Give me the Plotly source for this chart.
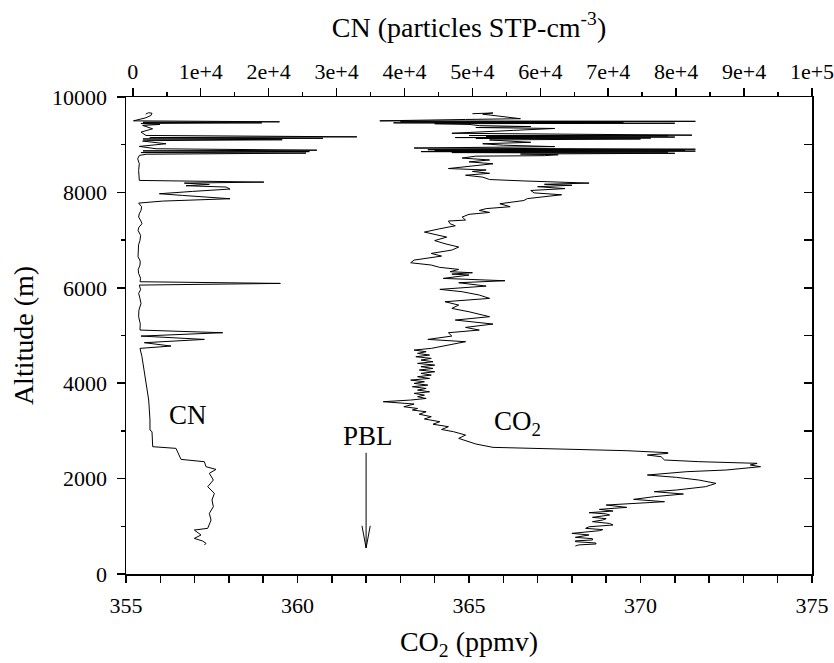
import plotly.graph_objects as go

# CN profile (top axis), top of flight to bottom
cn_alt = [9640, 9670, 9660, 9614, 9565, 9500, 9480, 9470, 9458, 9445,
          9425, 9404, 9334, 9264, 9194, 9165, 9150, 9135, 9120, 9104,
          9085, 9076, 9020, 8964, 8915, 8885, 8870, 8855, 8835, 8824,
          8800, 8775, 8705, 8601, 8461, 8251, 8216, 8195, 8167, 8140,
          8112, 8070, 8021, 7972, 7937, 7867, 7818, 7776, 7700, 7622,
          7550, 7483, 7400, 7343, 7270, 7203, 7100, 6994, 6900, 6784,
          6651, 6560, 6477, 6380, 6302, 6200, 6127, 6092, 6057, 5960,
          5883, 5780, 5673, 5530, 5394, 5250, 5114, 5058, 4988, 4918,
          4849, 4779, 4730, 4555, 4300, 3996, 3647, 3228, 3018, 2983,
          2669, 2634, 2564, 2403, 2354, 2249, 2193, 2110, 1970, 1830,
          1690, 1551, 1411, 1271, 1131, 992, 957, 922, 817, 747,
          691, 642, 607]
cn_val = [1900, 2300, 2830, 2680, 1940, 100, 21600, 1500, 19000, 1200,
          4000, 1450, 2920, 1210, 1940, 33000, 2500, 28000, 1500, 22000,
          2000, 1450, 4890, 960, 3420, 27100, 1500, 26000, 1200, 25500,
          2000, 960, 720, 960, 860, 960, 19300, 7590, 11270, 7840,
          13730, 14320, 8820, 3910, 7340, 14320, 4400, 860, 1300, 1210,
          950, 860, 1200, 1350, 900, 770, 1150, 1060, 850, 770,
          770, 1100, 1060, 800, 860, 1150, 1060, 21730, 960, 1150,
          860, 1050, 1210, 900, 860, 1100, 1060, 13240, 1210, 10540,
          1700, 5630, 1060, 1350, 1600, 1940, 2340, 2530, 2530, 2830,
          2930, 6360, 6610, 7100, 10540, 10780, 12250, 11270, 11860, 11030,
          12010, 11660, 11860, 11270, 11520, 11170, 11030, 9060, 10040, 9060,
          10290, 10780, 10540]

# CO2 profile (bottom axis), top of flight to bottom
co2_alt = [9650, 9665, 9640, 9545, 9529, 9500, 9490, 9482, 9476, 9470,
           9464, 9458, 9450, 9440, 9425, 9400, 9380, 9360, 9340, 9300,
           9260, 9240, 9200, 9192, 9185, 9175, 9160, 9150, 9140, 9130,
           9120, 9100, 9050, 9020, 8990, 8960, 8930, 8905, 8895, 8885,
           8875, 8865, 8855, 8845, 8835, 8820, 8805, 8790, 8770, 8760,
           8720, 8680, 8640, 8600, 8560, 8500, 8470, 8440, 8400, 8360,
           8320, 8270, 8240, 8195, 8170, 8150, 8120, 8080, 8040, 7990,
           7950, 7870, 7830, 7762, 7700, 7660, 7622, 7580, 7540, 7483,
           7420, 7400, 7343, 7300, 7238, 7200, 7168, 7063, 6990, 6924,
           6854, 6791, 6721, 6665, 6581, 6525, 6477, 6428, 6386, 6337,
           6316, 6288, 6267, 6197, 6148, 6106, 6036, 5967, 5918, 5848,
           5778, 5708, 5638, 5568, 5498, 5394, 5324, 5240, 5170, 5114,
           5058, 4988, 4918, 4870, 4800, 4730, 4695, 4660, 4625, 4590,
           4555, 4520, 4485, 4450, 4415, 4380, 4346, 4310, 4276, 4240,
           4206, 4170, 4136, 4100, 4066, 4030, 3996, 3960, 3926, 3890,
           3856, 3820, 3787, 3750, 3717, 3680, 3647, 3612, 3563, 3507,
           3470, 3437, 3402, 3350, 3298, 3250, 3193, 3140, 3088, 3030,
           2983, 2913, 2843, 2774, 2725, 2655, 2585, 2543, 2529, 2494,
           2459, 2390, 2355, 2320, 2285, 2250, 2180, 2145, 2075, 2026,
           1970, 1900, 1831, 1761, 1726, 1677, 1621, 1565, 1516, 1446,
           1397, 1355, 1320, 1286, 1260, 1237, 1210, 1188, 1160, 1132,
           1097, 1060, 1027, 990, 957, 930, 908, 880, 852, 818,
           790, 769, 740, 713, 695, 678, 650, 629, 610, 587]
co2_val = [365.1, 365.7, 365.4, 366.5, 364.9, 362.4, 371.6, 363.0, 371.2, 364.5,
           369.5, 362.8, 371.0, 364.0, 365.0, 365.3, 366.8, 365.2, 367.5, 366.3,
           365.0, 364.5, 371.5, 365.0, 370.8, 365.5, 371.0, 364.6, 370.3, 365.2,
           370.0, 365.6, 366.8, 365.4, 366.0, 367.5, 363.4, 371.6, 363.8, 371.3,
           364.0, 371.6, 363.6, 370.8, 364.5, 371.0, 366.5, 367.6, 367.2, 365.2,
           364.8, 365.6, 365.0, 365.7, 365.2, 364.4, 365.5, 365.1, 365.6, 364.9,
           365.4, 365.6, 366.6, 368.5, 367.2, 368.0, 367.0, 367.8, 366.8, 366.9,
           367.7, 366.7, 366.6, 365.9, 366.2, 365.5, 365.3, 365.6, 365.0, 364.8,
           364.9, 364.4, 364.45, 364.6, 364.15, 363.9, 363.7, 364.35, 364.0, 364.3,
           364.7, 364.5, 363.9, 364.2, 363.4, 363.3, 363.9, 364.15, 364.7, 364.45,
           365.1, 364.5, 365.0, 364.25, 366.05, 364.7, 365.5, 364.15, 364.8, 365.3,
           365.6, 364.3, 364.7, 364.5, 365.0, 365.6, 364.6, 365.7, 364.9, 365.3,
           364.4, 364.5, 363.8, 364.9, 364.35, 363.9, 363.4, 363.75, 363.5, 363.85,
           363.45, 363.9, 363.6, 363.95, 363.5, 364.0, 363.6, 363.95, 363.55, 364.0,
           363.6, 363.9, 363.5, 363.85, 363.3, 363.7, 363.4, 363.8, 363.35, 363.75,
           363.5, 363.85, 363.4, 363.7, 363.5, 363.75, 363.3, 362.5, 363.4, 363.1,
           363.5, 363.35, 363.75, 363.55, 363.9, 363.7, 364.15, 363.95, 364.4, 364.2,
           364.55, 364.9, 364.7, 365.0, 365.2, 365.7, 369.6, 370.8, 370.8, 370.2,
           370.6, 370.7, 371.7, 373.4, 373.2, 373.5, 372.5, 371.35, 370.2, 371.05,
           371.7, 372.2, 371.9, 371.05, 370.4, 371.25, 370.4, 369.8, 370.7, 369.0,
           369.6, 368.8, 369.2, 368.5, 369.0, 369.1, 368.7, 368.6, 369.0, 368.9,
           368.6, 369.1, 369.2, 368.5, 368.4, 368.9, 368.8, 368.3, 368.0, 368.5,
           368.2, 368.1, 368.6, 368.6, 368.1, 368.1, 368.7, 368.7, 368.2, 368.1]

assert len(cn_alt) == len(cn_val), (len(cn_alt), len(cn_val))
assert len(co2_alt) == len(co2_val), (len(co2_alt), len(co2_val))

cn_tickvals = [0, 10000, 20000, 30000, 40000, 50000, 60000, 70000, 80000, 90000, 100000]
cn_ticktext = ["0", "1e+4", "2e+4", "3e+4", "4e+4", "5e+4", "6e+4", "7e+4", "8e+4", "9e+4", "1e+5"]
cn_minor = [5000, 15000, 25000, 35000, 45000, 55000, 65000, 75000, 85000, 95000]

FONT = "Liberation Serif, Times New Roman, Times, serif"
LW = 1.5

fig = go.Figure()
fig.add_trace(go.Scatter(x=co2_val, y=co2_alt, mode="lines",
                         line=dict(color="black", width=1), xaxis="x", yaxis="y",
                         hoverinfo="skip"))
fig.add_trace(go.Scatter(x=cn_val, y=cn_alt, mode="lines",
                         line=dict(color="black", width=1), xaxis="x2", yaxis="y2",
                         hoverinfo="skip"))

# PBL arrow (shaft and open head)
pbl_x = 362.0
fig.add_shape(type="line", xref="x", yref="y", x0=pbl_x, x1=pbl_x, y0=2540, y1=545,
              line=dict(color="black", width=1))
fig.add_shape(type="path", xref="x", yref="y",
              path=f"M {pbl_x-0.12},1010 L {pbl_x},545 L {pbl_x+0.12},1010",
              line=dict(color="black", width=1))

ann_font = dict(family=FONT, size=27, color="black")
fig.add_annotation(x=356.8, y=3330, text="CN", showarrow=False, font=ann_font, xref="x", yref="y")
fig.add_annotation(x=362.05, y=2890, text="PBL", showarrow=False, font=ann_font, xref="x", yref="y")
fig.add_annotation(x=366.4, y=3170, text="CO<sub>2</sub>", showarrow=False, font=ann_font, xref="x", yref="y")

common = dict(showgrid=False, zeroline=False, showline=True, linecolor="black",
              linewidth=LW, tickcolor="black", tickwidth=LW, automargin=False,
              ticklabeloverflow="allow",
              tickfont=dict(family=FONT, size=22, color="black"))

fig.update_layout(
    width=834, height=663,
    margin=dict(l=126, r=22, t=97, b=89, autoexpand=False),
    paper_bgcolor="white", plot_bgcolor="white", showlegend=False,
    font=dict(family=FONT, color="black", size=22),
    xaxis=dict(range=[355, 375], tickmode="linear", tick0=355, dtick=5,
               ticks="outside", ticklen=7, ticklabelstandoff=4,
               minor=dict(dtick=1, ticks="outside", ticklen=7, tickwidth=LW, tickcolor="black"),
               title=dict(text="CO<sub>2</sub> (ppmv)", font=dict(family=FONT, size=28), standoff=14),
               **common),
    xaxis2=dict(range=[-1000, 100000], overlaying="x", side="top", anchor="y2",
                tickmode="array", tickvals=cn_tickvals, ticktext=cn_ticktext,
                ticks="outside", ticklen=8, ticklabelstandoff=0,
                minor=dict(tickmode="array", tickvals=cn_minor, ticks="outside",
                           ticklen=4, tickwidth=LW, tickcolor="black"),
                title=dict(text="CN (particles STP-cm<sup>-3</sup>)", font=dict(family=FONT, size=28), standoff=13),
                **common),
    yaxis=dict(range=[0, 10000], tickmode="linear", tick0=0, dtick=2000, tickformat="d",
               ticks="outside", ticklen=8, ticklabelstandoff=5,
               minor=dict(dtick=1000, ticks="outside", ticklen=4, tickwidth=LW, tickcolor="black"),
               title=dict(text="Altitude (m)", font=dict(family=FONT, size=28), standoff=10),
               **common),
    yaxis2=dict(range=[0, 10000], overlaying="y", side="right", anchor="x2",
                tickmode="linear", tick0=0, dtick=1000, ticks="inside", ticklen=8,
                showticklabels=False, **common),
)

# remove the default page margin so the figure fills the window exactly
fig.write_html("out.html",
               config={"displayModeBar": False, "staticPlot": True},
               post_script="document.body.style.margin='0';"
                           "document.documentElement.style.overflow='hidden';")
